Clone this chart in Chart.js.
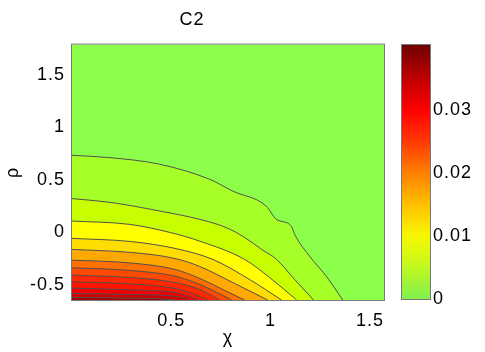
<!DOCTYPE html>
<html>
<head>
<meta charset="utf-8">
<script src="https://cdn.jsdelivr.net/npm/chart.js@4.4.1/dist/chart.umd.min.js"></script>
<style>
  html, body { margin: 0; padding: 0; background: #fff; }
  #wrap { position: relative; width: 485px; height: 352px; }
  #main { position: absolute; left: 0; top: 0; }
  #bar { position: absolute; left: 390px; top: 0; }
</style>
</head>
<body>
<div id="wrap">
  <canvas id="main" width="485" height="352"></canvas>
  <canvas id="bar" width="95" height="352"></canvas>
</div>
<script>
// axis ranges and ticks
const xMin = 0, xMax = 1.5708;
const yMin = -0.643, yMax = 1.786;
const xTicks = [0.5, 1, 1.5];
const yTicks = [-0.5, 0, 0.5, 1, 1.5];

// contour lines, outermost first as [chi, rho]
const c1 = [[0,0.733],[0.191,0.711],[0.442,0.648],[0.693,0.505],[0.809,0.393],[0.978,0.250],[1.029,0.124],[1.104,0.060],[1.121,-0.019],[1.196,-0.226],[1.280,-0.416],[1.363,-0.643]];
const c2 = [[0,0.321],[0.191,0.286],[0.442,0.203],[0.643,0.124],[0.777,0.045],[0.869,-0.048],[0.955,-0.162],[1.030,-0.257],[1.121,-0.448],[1.216,-0.643]];
const c3 = [[0,0.108],[0.291,0.076],[0.492,0.0],[0.643,-0.083],[0.869,-0.257],[0.995,-0.429],[1.131,-0.643]];
const c4 = [[0,-0.057],[0.291,-0.086],[0.518,-0.152],[0.709,-0.257],[0.894,-0.448],[1.055,-0.643]];
const c5 = [[0,-0.162],[0.291,-0.190],[0.518,-0.248],[0.643,-0.324],[0.819,-0.486],[0.985,-0.643]];
const c6 = [[0,-0.264],[0.291,-0.290],[0.518,-0.352],[0.643,-0.438],[0.769,-0.552],[0.869,-0.643]];
const c7 = [[0,-0.336],[0.291,-0.362],[0.518,-0.416],[0.643,-0.495],[0.719,-0.562],[0.804,-0.643]];
const c8 = [[0,-0.407],[0.291,-0.429],[0.518,-0.476],[0.643,-0.543],[0.744,-0.643]];
const c9 = [[0,-0.470],[0.291,-0.490],[0.518,-0.533],[0.618,-0.590],[0.683,-0.643]];
const c10 = [[0,-0.530],[0.291,-0.546],[0.518,-0.571],[0.593,-0.610],[0.633,-0.643]];
const c11 = [[0,-0.581],[0.291,-0.590],[0.518,-0.607],[0.568,-0.629],[0.593,-0.643]];
const c12 = [[0,-0.619],[0.241,-0.624],[0.442,-0.631],[0.518,-0.643]];
const contours = [c1, c2, c3, c4, c5, c6, c7, c8, c9, c10, c11, c12];

// band colours: outside everything, then inside each contour
const bandColors = ['#8cff4a', '#a6ff26', '#c8ff00', '#ffff00', '#ffdd00', '#ffa800',
  '#ff7000', '#ff4800', '#ff2800', '#ff1400', '#f00000', '#d00000', '#a80000'];

// colour bar
const cbMax = 0.0403;
const cbTicks = [0, 0.01, 0.02, 0.03];
const cbValues = [0, 0.005, 0.01, 0.015, 0.02, 0.025, 0.03, 0.035, 0.0403];
const cbColors = ['#80f050', '#c0f820', '#f8f800', '#ffc000', '#ff8000', '#ff3800', '#ff0000', '#c00000', '#700000'];

const FONT = 'Liberation Sans, Arial, sans-serif';
const frameColor = '#7a7a7a';

const spacing = {
  id: 'spacing',
  beforeDraw(chart) { chart.ctx.letterSpacing = '1px'; }
};

const background = {
  id: 'background',
  beforeDatasetsDraw(chart) {
    const a = chart.chartArea, ctx = chart.ctx;
    ctx.save();
    ctx.fillStyle = bandColors[0];
    ctx.fillRect(a.left, a.top, a.right - a.left, a.bottom - a.top);
    ctx.restore();
  }
};

const frame = {
  id: 'frame',
  afterDatasetsDraw(chart) {
    const a = chart.chartArea, ctx = chart.ctx;
    ctx.save();
    ctx.strokeStyle = frameColor;
    ctx.lineWidth = 1;
    ctx.strokeRect(a.left - 0.5, a.top - 0.5, a.right - a.left + 1, a.bottom - a.top + 1);
    ctx.restore();
  }
};

const datasets = contours.map((pts, i) => ({
  data: pts.map(p => ({ x: p[0], y: p[1] })),
  showLine: true,
  fill: 'start',
  backgroundColor: bandColors[i + 1],
  borderColor: '#505050',
  borderWidth: 1,
  pointRadius: 0,
  cubicInterpolationMode: 'monotone',
  order: contours.length - i
}));

new Chart(document.getElementById('main'), {
  type: 'scatter',
  data: { datasets: datasets },
  options: {
    responsive: false,
    devicePixelRatio: 1,
    animation: false,
    layout: { padding: { left: 0, right: 101, top: 0, bottom: 0 } },
    plugins: {
      legend: { display: false },
      tooltip: { enabled: false },
      title: {
        display: true,
        text: 'C2',
        color: '#000',
        font: { family: FONT, size: 18, weight: 'normal' },
        padding: { top: 9, bottom: 14 }
      }
    },
    scales: {
      x: {
        type: 'linear',
        min: xMin,
        max: xMax,
        afterBuildTicks: s => { s.ticks = xTicks.map(v => ({ value: v })); },
        afterFit: s => { s.height = 52; },
        grid: { display: false, drawTicks: false },
        border: { display: false },
        ticks: { color: '#000', font: { family: FONT, size: 18 }, padding: 10, maxRotation: 0, callback: v => String(v) },
        title: { display: true, text: 'χ', color: '#000', font: { family: FONT, size: 18 }, padding: { top: 0, bottom: 3 } }
      },
      y: {
        type: 'linear',
        min: yMin,
        max: yMax,
        afterBuildTicks: s => { s.ticks = yTicks.map(v => ({ value: v })); },
        afterFit: s => { s.width = 72; },
        grid: { display: false, drawTicks: false },
        border: { display: false },
        ticks: { color: '#000', font: { family: FONT, size: 18 }, padding: 7, callback: v => String(v) },
        title: { display: true, text: 'ρ', color: '#000', font: { family: FONT, size: 18 }, padding: { top: 2, bottom: 0 } }
      }
    }
  },
  plugins: [spacing, background, frame]
});

// colour bar as a single bar filled with the colour map
new Chart(document.getElementById('bar'), {
  type: 'bar',
  data: {
    labels: ['cb'],
    datasets: [{
      data: [cbMax],
      barPercentage: 1,
      categoryPercentage: 1,
      borderWidth: 0,
      backgroundColor: (c) => {
        const chart = c.chart;
        if (!chart.chartArea) return cbColors[0];
        const y = chart.scales.y;
        const g = chart.ctx.createLinearGradient(0, y.getPixelForValue(0), 0, y.getPixelForValue(cbMax));
        cbValues.forEach((v, i) => g.addColorStop(v / cbMax, cbColors[i]));
        return g;
      }
    }]
  },
  options: {
    responsive: false,
    devicePixelRatio: 1,
    animation: false,
    layout: { padding: { left: 12, right: 0, top: 45, bottom: 53 } },
    plugins: { legend: { display: false }, tooltip: { enabled: false } },
    scales: {
      x: { display: false },
      y: {
        position: 'right',
        min: 0,
        max: cbMax,
        afterBuildTicks: s => { s.ticks = cbTicks.map(v => ({ value: v })); },
        afterFit: s => { s.width = 55; },
        grid: { display: false, drawTicks: false },
        border: { display: false },
        ticks: { color: '#000', font: { family: FONT, size: 18 }, padding: 3, callback: v => String(v) }
      }
    }
  },
  plugins: [spacing, frame]
});
</script>
</body>
</html>
